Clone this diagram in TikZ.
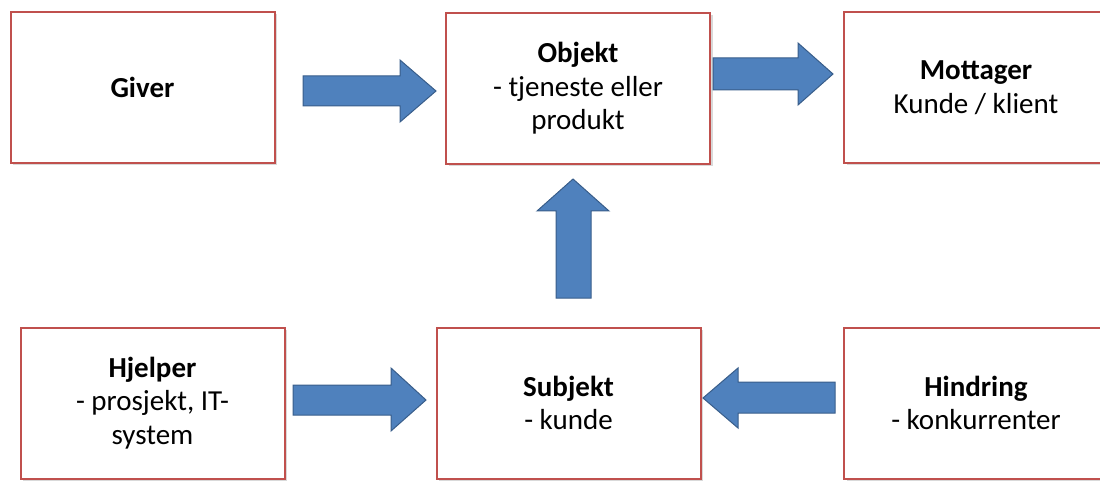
\documentclass[tikz,border=0pt]{standalone}
\usepackage{fontspec}
\setmainfont{Carlito}
\usetikzlibrary{shadows}
\definecolor{boxred}{HTML}{C0504D}
\definecolor{arrfill}{HTML}{4F81BD}
\definecolor{arrline}{HTML}{385D8A}
\tikzset{
  box/.style={draw=boxred, line width=2pt, fill=white, minimum width=264pt, minimum height=151pt,
    inner sep=0pt, align=center, font=\fontsize{29pt}{33.5pt}\selectfont,
    drop shadow={opacity=0.3, shadow xshift=2.5pt, shadow yshift=-2.5pt}},
  blockarrow/.style={fill=arrfill, draw=arrline, line width=1pt, line join=miter}
}
\begin{document}
\begin{tikzpicture}[x=1pt,y=-1pt]
\useasboundingbox (0,0) rectangle (1100,481);
\clip (0,0) rectangle (1100,481);
\node[box] (giver) at (142.5,87.5) {\textbf{Giver}};
\node[box] (objekt) at (578,88.5) {\textbf{Objekt}\\- tjeneste eller\\produkt};
\node[box] (mottager) at (976,87.5) {\textbf{Mottager}\\Kunde / klient};
\node[box] (hjelper) at (152.5,403) {\textbf{Hjelper}\\- prosjekt, IT-\\system};
\node[box] (subjekt) at (568.5,403) {\textbf{Subjekt}\\- kunde};
\node[box] (hindring) at (976,403) {\textbf{Hindring}\\- konkurrenter};
% block arrows
\draw[blockarrow] (303,76) -- (400,76) -- (400,60) -- (436,91) -- (400,122) -- (400,106) -- (303,106) -- cycle;
\draw[blockarrow] (713,58) -- (798,58) -- (798,43) -- (833,74) -- (798,105) -- (798,90) -- (713,90) -- cycle;
\draw[blockarrow] (556,298) -- (556,211) -- (537,211) -- (573,179) -- (609,211) -- (591,211) -- (591,298) -- cycle;
\draw[blockarrow] (293,385) -- (391,385) -- (391,368) -- (426,400) -- (391,431) -- (391,415) -- (293,415) -- cycle;
\draw[blockarrow] (835,382) -- (738,382) -- (738,368) -- (703,398) -- (738,428) -- (738,413) -- (835,413) -- cycle;
\end{tikzpicture}
\end{document}
